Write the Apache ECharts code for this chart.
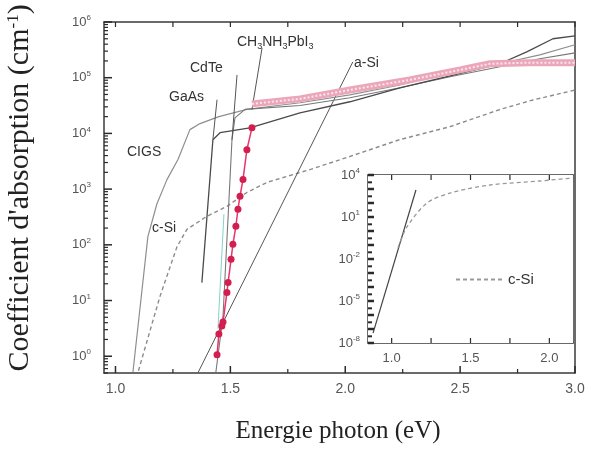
<!DOCTYPE html>
<html>
<head>
<meta charset="utf-8">
<title>Coefficient d'absorption</title>
<script src="https://cdn.jsdelivr.net/npm/echarts@6.0.0/dist/echarts.min.js"></script>
<style>
  html, body { margin: 0; padding: 0; background: #fff; }
  #main { width: 591px; height: 455px; }
</style>
</head>
<body>
<div id="main"></div>
<script>
// valeurs : [energie (eV), alpha (cm-1)]
var cSiMain = [[1.10,0.55],[1.194,12],[1.268,93],[1.311,190],[1.398,325],[1.485,490],[1.572,870],
  [1.659,1320],[1.846,2240],[2.02,3850],[2.238,7760],[2.456,13200],[2.673,26900],[2.817,39800],[3.0,60000]];
var cigs = [[1.076,0.52],[1.141,140],[1.18,540],[1.224,1480],[1.272,3400],[1.324,11700],[1.368,15000],
  [1.45,20000],[1.572,27000],[1.716,32000],[1.803,35500],[2.02,49000],[2.238,74000],[2.456,123000],
  [2.673,178000],[2.847,257000],[3.0,390000]];
var gaas = [[1.376,21],[1.424,7700],[1.455,10300],[1.585,12600],[1.803,23300],[2.02,37000],[2.238,66000],
  [2.456,108000],[2.673,178000],[2.79,290000],[2.904,500000],[3.0,565000]];
var cdte = [[1.437,0.52],[1.468,5.2],[1.494,655],[1.507,7700],[1.52,19000],[1.564,27000],[1.803,31600],
  [2.02,43600],[2.238,66000],[2.456,104000],[2.673,157000],[2.847,219000],[3.0,279000]];
var aSi = [[1.359,0.505],[2.033,192000]];
var teal = [[1.446,3.1],[1.472,355]];
var perov = [[1.442,1.06],[1.450,2.5],[1.463,3.5],[1.468,4.1],[1.485,14],[1.490,21],[1.503,55],[1.511,102],
  [1.524,215],[1.533,435],[1.542,745],[1.555,1490],[1.572,5100],[1.594,12600]];
var perovBand = [[1.594,33900],[1.803,41700],[2.02,60300],[2.28,91200],[2.50,138000],[2.63,178000],
  [2.80,186000],[3.0,186000]];
// traits de rappel vers les etiquettes
var gaasLead = [[1.424,7700],[1.442,40300]];
var cdteLead = [[1.507,7700],[1.529,112000]];
var perovLead = [[1.594,27000],[1.638,343000]];
// encart
var insetSolid = [[0.882,5.1e-8],[1.154,850]];
var insetCSi = [[1.04,0.062],[1.097,1.95],[1.224,100],[1.37,515],[1.624,1930],[1.94,3730],[2.15,6100]];

// graduations
var xMajor = [1.0, 1.5, 2.0, 2.5, 3.0];
var xMinor = [1.25, 1.75, 2.25, 2.75];
var xTop = [1.0, 1.25, 1.5, 1.75, 2.0, 2.25, 2.5, 2.75, 3.0];
var yDecades = [1, 10, 100, 1e3, 1e4, 1e5, 1e6];
var insetXLabels = [1.0, 1.5, 2.0];
var insetXTicks = [1.0, 1.25, 1.5, 1.75, 2.0];
var insetYLabels = [1e-8, 1e-5, 1e-2, 1e1, 1e4];
var insetYDecades = [1e-8,1e-7,1e-6,1e-5,1e-4,1e-3,1e-2,1e-1,1,10,100,1e3,1e4];

var yMinor = [];
[0.1, 1, 10, 100, 1e3, 1e4, 1e5].forEach(function (d) {
  for (var k = 2; k <= 9; k++) if (d * k >= 0.5) yMinor.push(d * k);
});
var insetYMinor = insetYDecades.slice(0, -1).map(function (d) { return d * 3; });

var sans = 'Liberation Sans, Arial, sans-serif';
var serif = 'Liberation Serif, Times New Roman, serif';
var frame = { show: true, onZero: false, lineStyle: { color: '#3a3a3a', width: 1.5 } };

function powLabel(v) {
  var e = Math.round(Math.log(v) / Math.LN10);
  if (Math.abs(Math.pow(10, e) - v) > 1e-6 * v) return '';
  return '10{sup|' + e + '}';
}
var supRich = { sup: { fontSize: 8, fontFamily: sans, color: '#555', padding: [0, 0, 8, 0] } };

function xAx(grid, pos, min, max, labels, size) {
  return {
    type: 'value', gridIndex: grid, position: pos, min: min, max: max,
    axisLine: frame, splitLine: { show: false }, axisTick: { show: false },
    axisLabel: labels ? { show: true, customValues: labels, fontFamily: sans, fontSize: size, color: '#555', margin: 9,
      formatter: function (v) { return v.toFixed(1); } } : { show: false }
  };
}
function yAx(grid, pos, min, max, labels, margin) {
  return {
    type: 'log', gridIndex: grid, position: pos, min: min, max: max,
    axisLine: frame, splitLine: { show: false }, axisTick: { show: false },
    axisLabel: labels ? { show: true, customValues: labels, fontFamily: sans, fontSize: 13, color: '#555', margin: margin,
      formatter: powLabel, rich: supRich } : { show: false }
  };
}

function curve(name, data, color, width, opts) {
  var s = {
    name: name, type: 'line', data: data, xAxisIndex: 0, yAxisIndex: 0,
    showSymbol: false, symbol: 'none', silent: true,
    lineStyle: { color: color, width: width }
  };
  return Object.assign(s, opts || {});
}

// graduations tournees vers l'interieur, placees par les echelles des axes
function ticks(axIdx, vals, side, len, w, z) {
  var data = vals.map(function (v) { return (side === 'left') ? [1, v] : [v, 1]; });
  return {
    type: 'custom', xAxisIndex: axIdx, yAxisIndex: axIdx, data: data, clip: false, silent: true, z: z,
    renderItem: function (params, api) {
      var r = params.coordSys;
      var p = api.coord([api.value(0), api.value(1)]);
      var s;
      if (side === 'bottom') s = { x1: p[0], y1: r.y + r.height, x2: p[0], y2: r.y + r.height - len };
      else if (side === 'top') s = { x1: p[0], y1: r.y, x2: p[0], y2: r.y + len };
      else s = { x1: r.x, y1: p[1], x2: r.x + len, y2: p[1] };
      return { type: 'line', shape: s, style: { stroke: '#2a2a2a', lineWidth: w } };
    }
  };
}

var chart = echarts.init(document.getElementById('main'));
chart.setOption({
  backgroundColor: '#fff',
  animation: false,
  grid: [
    { left: 104, right: 16, top: 22, bottom: 82 },
    { left: 368, right: 18, top: 175, bottom: 112, show: true, backgroundColor: '#fff', borderWidth: 0, z: 3 }
  ],
  xAxis: [
    xAx(0, 'bottom', 0.95, 3.0, xMajor, 14),
    xAx(0, 'top', 0.95, 3.0, null, 14),
    xAx(1, 'bottom', 0.85, 2.15, insetXLabels, 13),
    xAx(1, 'top', 0.85, 2.15, null, 13)
  ],
  yAxis: [
    yAx(0, 'left', 0.5, 1e6, yDecades, 13),
    yAx(0, 'right', 0.5, 1e6, null, 0),
    yAx(1, 'left', 1e-8, 1e4, insetYLabels, 8),
    yAx(1, 'right', 1e-8, 1e4, null, 0)
  ],
  legend: {
    data: ['c-Si'], left: 450, top: 267, itemWidth: 47, itemHeight: 10, itemGap: 4, selectedMode: false,
    itemStyle: { opacity: 0 },
    textStyle: { fontFamily: sans, fontSize: 15, color: '#333' }, z: 5
  },
  graphic: [
    { type: 'text', x: 237, y: 42, z: 10, style: { text: 'CH{s|3}NH{s|3}PbI{s|3}', fontFamily: sans, fontSize: 14, fill: '#333',
        verticalAlign: 'middle', rich: { s: { fontFamily: sans, fontSize: 9, fill: '#333', padding: [9, 0, 0, 0] } } } },
    { type: 'text', x: 190, y: 68, z: 10, style: { text: 'CdTe', fontFamily: sans, fontSize: 14, fill: '#333', verticalAlign: 'middle' } },
    { type: 'text', x: 169, y: 97, z: 10, style: { text: 'GaAs', fontFamily: sans, fontSize: 14, fill: '#333', verticalAlign: 'middle' } },
    { type: 'text', x: 127, y: 152, z: 10, style: { text: 'CIGS', fontFamily: sans, fontSize: 14, fill: '#333', verticalAlign: 'middle' } },
    { type: 'text', x: 354, y: 63, z: 10, style: { text: 'a-Si', fontFamily: sans, fontSize: 14, fill: '#333', verticalAlign: 'middle' } },
    { type: 'text', x: 152, y: 228, z: 10, style: { text: 'c-Si', fontFamily: sans, fontSize: 14, fill: '#333', verticalAlign: 'middle' } },
    { type: 'text', x: 338, y: 431, z: 10, style: { text: 'Energie photon (eV)', fontFamily: serif, fontSize: 25, fill: '#222',
        align: 'center', verticalAlign: 'middle' } },
    { type: 'text', x: 20, y: 188, rotation: Math.PI / 2, z: 10, style: { text: 'Coefficient d\'absorption (cm{sup|-1})',
        fontFamily: serif, fontSize: 30, fill: '#222', align: 'center', verticalAlign: 'middle',
        rich: { sup: { fontFamily: serif, fontSize: 17, fill: '#222', padding: [0, 0, 13, 0] } } } }
  ],
  series: [
    ticks(0, xMajor, 'bottom', 7, 1.5, 4),
    ticks(0, xMinor, 'bottom', 4, 1.2, 4),
    ticks(0, xTop, 'top', 5, 1.2, 4),
    ticks(0, yDecades, 'left', 8, 1.5, 4),
    ticks(0, yMinor, 'left', 4, 1.2, 4),
    ticks(2, insetXTicks, 'bottom', 5, 1.2, 6),
    ticks(2, insetXTicks, 'top', 5, 1.2, 6),
    ticks(2, insetYDecades, 'left', 6, 2.5, 6),
    ticks(2, insetYMinor, 'left', 4, 2, 6),
    curve('c-Si (main)', cSiMain, '#8c8c8c', 1.4, { lineStyle: { color: '#8c8c8c', width: 1.4, type: [4, 3] } }),
    curve('a-Si', aSi, '#555', 1),
    curve('teal', teal, '#86d3c9', 1),
    curve('CIGS', cigs, '#8e8e8e', 1.2),
    curve('CdTe', cdte, '#777', 1.1),
    curve('GaAs', gaas, '#4a4a4a', 1.3),
    curve('lead1', gaasLead, '#555', 1),
    curve('lead2', cdteLead, '#555', 1),
    curve('lead3', perovLead, '#555', 1),
    curve('band', perovBand, '#eba7b9', 7),
    curve('band2', perovBand, '#fbe6ec', 2, { lineStyle: { color: '#fbe6ec', width: 2, type: [2, 2] } }),
    curve('CH3NH3PbI3', perov, '#e8336b', 1.5, {
      showSymbol: true, symbol: 'circle', symbolSize: 7, itemStyle: { color: '#d21f4f' }
    }),
    {
      name: 'inset solid', type: 'line', data: insetSolid, xAxisIndex: 2, yAxisIndex: 2, z: 5,
      symbol: 'none', showSymbol: false, silent: true, lineStyle: { color: '#444', width: 1.2 }
    },
    {
      name: 'c-Si', type: 'line', data: insetCSi, xAxisIndex: 2, yAxisIndex: 2, z: 5, smooth: 0.3,
      symbol: 'none', showSymbol: false, silent: true, itemStyle: { color: '#999' },
      lineStyle: { color: '#999', width: 1.3, type: [4, 3] }
    }
  ]
});
</script>
</body>
</html>
